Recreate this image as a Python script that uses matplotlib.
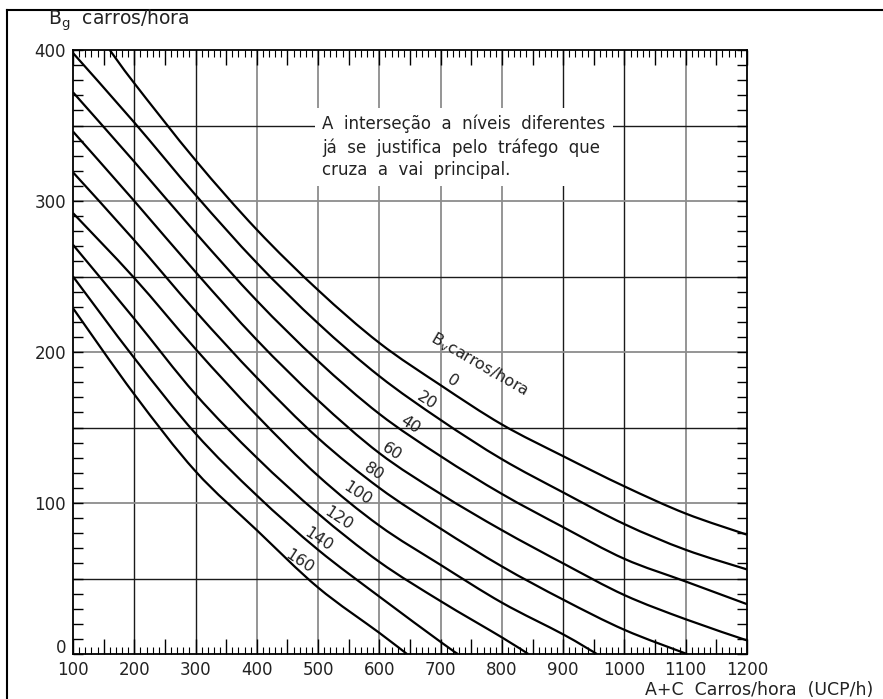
import numpy as np
import matplotlib
matplotlib.use('Agg')
import matplotlib.pyplot as plt
from matplotlib.ticker import MultipleLocator, FuncFormatter
from matplotlib.lines import Line2D
from matplotlib.path import Path
from matplotlib.patches import PathPatch

bv_values = [0, 20, 40, 60, 80, 100, 120, 140, 160]

b0_x = [160, 200, 300, 400, 500, 600, 700, 800, 900, 1000, 1100, 1200]
b0_y = [400, 378, 327, 281, 241, 206, 178, 152, 131, 111, 93, 79]

b20_x = [100, 200, 300, 400, 500, 600, 700, 800, 900, 1000, 1100, 1200]
b20_y = [398, 352, 304, 259, 219, 184, 155, 129, 107, 86, 69, 56]

b40_x = [100, 200, 300, 400, 500, 600, 700, 800, 900, 1000, 1100, 1200]
b40_y = [372, 326, 279, 234, 194, 159, 131, 106, 84, 63, 48, 33]

b60_x = [100, 200, 300, 400, 500, 600, 700, 800, 900, 1000, 1100, 1200]
b60_y = [346, 300, 253, 208, 168, 133, 106, 82, 60, 39, 23, 9]

b80_x = [100, 200, 300, 400, 500, 600, 700, 800, 900, 1000, 1102]
b80_y = [319, 274, 227, 183, 143, 110, 83, 58, 36, 16, 0]

b100_x = [100, 200, 300, 400, 500, 600, 700, 800, 900, 955]
b100_y = [292, 249, 202, 158, 118, 85, 59, 34, 13, 0]

b120_x = [100, 200, 300, 400, 500, 600, 700, 800, 843]
b120_y = [271, 222, 172, 130, 93, 61, 35, 11, 0]

b140_x = [100, 200, 300, 400, 500, 600, 700, 728]
b140_y = [250, 196, 146, 105, 69, 38, 8, 0]

b160_x = [100, 200, 300, 400, 500, 600, 645]
b160_y = [229, 172, 121, 82, 44, 14, 0]

curves_x = [b0_x, b20_x, b40_x, b60_x, b80_x, b100_x, b120_x, b140_x, b160_x]
curves_y = [b0_y, b20_y, b40_y, b60_y, b80_y, b100_y, b120_y, b140_y, b160_y]

# linhas da quadrícula (escuras / cinzentas)
vgrid_x = [200, 300, 400, 500, 600, 700, 800, 900, 1000, 1100]
vgrid_dark = [True, True, False, False, False, False, False, True, True, False]
hgrid_y = [50, 100, 150, 200, 250, 300, 350]
hgrid_dark = [True, False, True, False, True, False, True]

# posição dos rótulos das curvas
lbl_x = [720, 678, 650, 621, 591, 564, 533, 500, 470]
lbl_y = [181, 168, 152, 134, 121, 106, 90, 76, 61]


def curva_suave(xs, ys):
    # Catmull-Rom -> Bezier cúbica passando pelos pontos lidos
    p = np.column_stack([xs, ys]).astype(float)
    n = len(p)
    verts = [p[0]]
    codes = [Path.MOVETO]
    for i in range(n - 1):
        p0 = p[i - 1] if i > 0 else p[i]
        p1, p2 = p[i], p[i + 1]
        p3 = p[i + 2] if i + 2 < n else p[i + 1]
        verts += [p1 + (p2 - p0) / 6, p2 - (p3 - p1) / 6, p2]
        codes += [Path.CURVE4] * 3
    return Path(verts, codes)


W, H = 883, 699
fig = plt.figure(figsize=(W / 100, H / 100), dpi=100)
ax = fig.add_axes([73 / W, 45 / H, 674 / W, 604 / H])

for x, dark in zip(vgrid_x, vgrid_dark):
    ax.axvline(x, color='#1a1a1a' if dark else '#8c8c8c', lw=1.0 if dark else 1.3, zorder=1)
for y, dark in zip(hgrid_y, hgrid_dark):
    ax.axhline(y, color='#1a1a1a' if dark else '#8c8c8c', lw=1.0 if dark else 1.3, zorder=1)

for xs, ys in zip(curves_x, curves_y):
    ax.add_patch(PathPatch(curva_suave(xs, ys), facecolor='none', edgecolor='black',
                           lw=1.6, zorder=3))

for b, x, y in zip(bv_values, lbl_x, lbl_y):
    ax.text(x, y, str(b), rotation=-33, ha='center', va='center', fontsize=11.5,
            color='#222222', zorder=4)

ax.text(764, 192, r'B$_\mathregular{v}$carros/hora', rotation=-30, ha='center', va='center',
        fontsize=11.5, color='#222222', zorder=4)

ax.text(507, 357, 'A  interseção  a  níveis  diferentes\njá  se  justifica  pelo  tráfego  que\ncruza  a  vai  principal.',
        ha='left', va='top', fontsize=12, linespacing=1.32, color='#222222', zorder=2,
        bbox=dict(facecolor='white', edgecolor='none', pad=5))

ax.set_xlim(100, 1200)
ax.set_ylim(0, 400)

xfmt = FuncFormatter(lambda v, p: f'{int(round(v))}' if round(v) % 100 == 0 else '')
# o zero do eixo vertical fica um pouco acima do canto, escrito à parte
yfmt = FuncFormatter(lambda v, p: f'{int(round(v))}' if round(v) % 100 == 0 and v > 0 else '')
ax.xaxis.set_major_locator(MultipleLocator(50))
ax.xaxis.set_minor_locator(MultipleLocator(10))
ax.xaxis.set_major_formatter(xfmt)
ax.yaxis.set_major_locator(MultipleLocator(50))
ax.yaxis.set_minor_locator(MultipleLocator(10))
ax.yaxis.set_major_formatter(yfmt)

ax.tick_params(axis='x', which='major', direction='in', top=True, length=11, width=1,
               labelsize=12, pad=5, labelcolor='#222222')
ax.tick_params(axis='x', which='minor', direction='in', top=True, length=5, width=0.8)
ax.tick_params(axis='y', which='both', direction='in', right=True, length=7, width=1,
               labelsize=12, pad=5, labelcolor='#222222')
for s in ax.spines.values():
    s.set_linewidth(1.3)

fig.text(66 / W, 1 - 648 / H, '0', fontsize=12, ha='right', va='center', color='#222222')
fig.text(48 / W, 1 - 20 / H, r'B$_\mathregular{g}$  carros/hora', fontsize=13.5,
         va='center', ha='left', color='#222222')
fig.text(873 / W, 1 - 690 / H, 'A+C  Carros/hora  (UCP/h)', fontsize=12.5,
         va='center', ha='right', color='#222222')

# moldura exterior
fig.add_artist(Line2D([7 / W, 7 / W], [0, 1 - 10 / H], color='black', lw=1.5))
fig.add_artist(Line2D([7 / W, 1], [1 - 10 / H, 1 - 10 / H], color='black', lw=1.5))

fig.savefig('out.png', dpi=100)
